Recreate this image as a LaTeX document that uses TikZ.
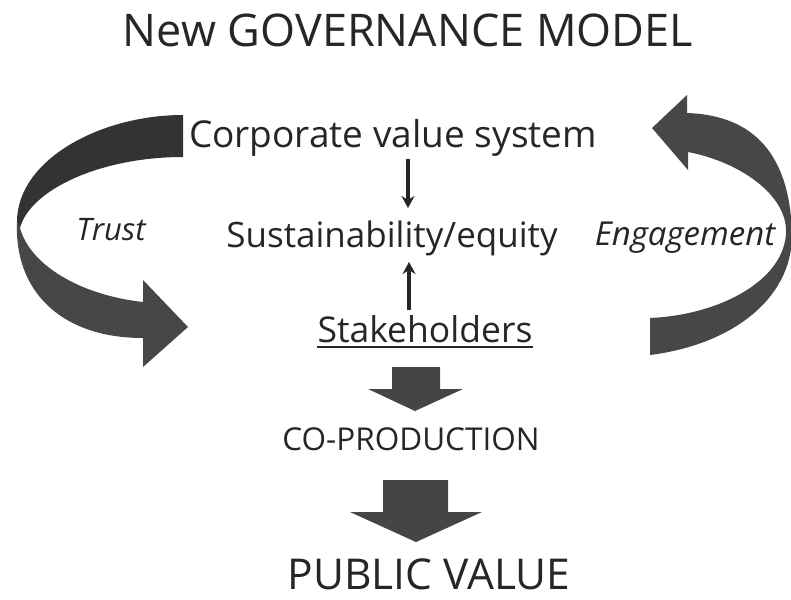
\documentclass[tikz,border=0pt]{standalone}
\usepackage{fontspec}
\setmainfont{Open Sans}
\usetikzlibrary{arrows.meta}

\definecolor{ink}{HTML}{262626}
\definecolor{ribbondark}{HTML}{333333}
\definecolor{ribbonmid}{HTML}{474747}
\definecolor{blockgray}{HTML}{454545}

\tikzset{
  label text/.style={inner sep=0pt, anchor=base, text=ink},
  linkarrow/.style={line width=3.5pt, draw=ink, -{Stealth[length=12pt, width=13pt]}},
  block/.style={fill=blockgray, draw=none},
}

\begin{document}
\begin{tikzpicture}[x=1pt, y=-1pt]
  \useasboundingbox[fill=white] (0,0) rectangle (791,599);

  % curved arrow on the left: a twisted ribbon, darker upper half
  \fill[ribbondark] (183,115) .. controls (100,115) and (17,160) .. (17,222)
    -- (20,228) .. controls (30,190) and (100,157) .. (183,157) -- cycle;
  \fill[ribbonmid] (17,222) .. controls (14,290) and (60,338) .. (143,338)
    -- (143,367) -- (188,327) -- (143,280) -- (143,302)
    .. controls (80,295) and (30,265) .. (20,228) -- cycle;

  % curved arrow on the right, pointing back up to the value system
  \fill[ribbondark!90!white] (650,355) .. controls (730,345) and (792,300) .. (792,235)
    .. controls (790,145) and (745,115) .. (687,113)
    -- (687,95) -- (652,128) -- (688,170) -- (688,152)
    .. controls (740,162) and (787,195) .. (786,232)
    .. controls (785,280) and (720,315) .. (650,318) -- cycle;

  % text
  \node[label text, font=\fontsize{45}{54}\selectfont] (title) at (408,47) {New GOVERNANCE MODEL};
  \node[label text, font=\fontsize{37}{44}\selectfont] (corp) at (393,147) {Corporate value system};
  \node[label text, font=\fontsize{35}{42}\selectfont] (sust) at (392,247) {Sustainability/equity};
  \node[label text, font=\fontsize{35.5}{42}\selectfont] (stake) at (425,342) {Stakeholders};
  \node[label text, font=\fontsize{31.5}{38}\selectfont] (coprod) at (411,450) {CO-PRODUCTION};
  \node[label text, font=\fontsize{42.5}{51}\selectfont] (pv) at (429,589) {PUBLIC VALUE};
  \node[label text, font=\fontsize{31}{37}\selectfont\itshape] (trust) at (111,240) {Trust};
  \node[label text, font=\fontsize{33}{40}\selectfont\itshape] (engage) at (685,245) {Engagement};

  % underline of the stakeholders label
  \draw[ink, line width=1.8pt] ([yshift=-5pt]stake.base west) -- ([yshift=-5pt]stake.base east);

  % thin arrows between the central labels
  \coordinate (corpport) at (408,159);
  \coordinate (sustin) at (408,208);
  \coordinate (stakeport) at (409,310);
  \coordinate (sustout) at (409,262);
  \draw[linkarrow] (corpport) -- (sustin);
  \draw[linkarrow] (stakeport) -- (sustout);

  % block arrows down the middle
  \fill[block] (392,367) -- (440,367) -- (440,389) -- (463,389) -- (415,411)
    -- (368,389) -- (392,389) -- cycle;
  \fill[block] (383,480) -- (448,480) -- (448,512) -- (482,512) -- (416,542)
    -- (350,512) -- (383,512) -- cycle;
\end{tikzpicture}
\end{document}
